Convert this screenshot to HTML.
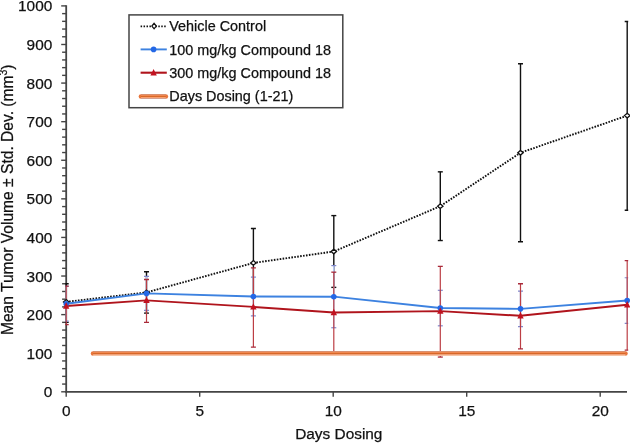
<!DOCTYPE html>
<html><head><meta charset="utf-8"><style>
html,body{margin:0;padding:0;background:#fff;}
body{width:630px;height:443px;overflow:hidden;}
svg{display:block;will-change:transform;}
.t{font-family:"Liberation Sans",sans-serif;font-size:15.4px;fill:#111;stroke:#111;stroke-width:0.25px;}
.l{font-family:"Liberation Sans",sans-serif;font-size:14.4px;fill:#111;stroke:#111;stroke-width:0.25px;}
</style></head><body>
<svg width="630" height="443" viewBox="0 0 630 443">
<clipPath id="pc"><rect x="65.3" y="0" width="562.9000000000001" height="443"/></clipPath>
<line x1="61.2" y1="391.80" x2="66.2" y2="391.80" stroke="#444444" stroke-width="1.4"/>
<text x="52.3" y="397.30" text-anchor="end" class="t">0</text>
<line x1="62.1" y1="384.08" x2="66.2" y2="384.08" stroke="#444444" stroke-width="1.4"/>
<line x1="62.1" y1="376.36" x2="66.2" y2="376.36" stroke="#444444" stroke-width="1.4"/>
<line x1="62.1" y1="368.65" x2="66.2" y2="368.65" stroke="#444444" stroke-width="1.4"/>
<line x1="62.1" y1="360.93" x2="66.2" y2="360.93" stroke="#444444" stroke-width="1.4"/>
<line x1="61.2" y1="353.21" x2="66.2" y2="353.21" stroke="#444444" stroke-width="1.4"/>
<text x="52.3" y="358.71" text-anchor="end" class="t">100</text>
<line x1="62.1" y1="345.49" x2="66.2" y2="345.49" stroke="#444444" stroke-width="1.4"/>
<line x1="62.1" y1="337.77" x2="66.2" y2="337.77" stroke="#444444" stroke-width="1.4"/>
<line x1="62.1" y1="330.06" x2="66.2" y2="330.06" stroke="#444444" stroke-width="1.4"/>
<line x1="62.1" y1="322.34" x2="66.2" y2="322.34" stroke="#444444" stroke-width="1.4"/>
<line x1="61.2" y1="314.62" x2="66.2" y2="314.62" stroke="#444444" stroke-width="1.4"/>
<text x="52.3" y="320.12" text-anchor="end" class="t">200</text>
<line x1="62.1" y1="306.90" x2="66.2" y2="306.90" stroke="#444444" stroke-width="1.4"/>
<line x1="62.1" y1="299.18" x2="66.2" y2="299.18" stroke="#444444" stroke-width="1.4"/>
<line x1="62.1" y1="291.47" x2="66.2" y2="291.47" stroke="#444444" stroke-width="1.4"/>
<line x1="62.1" y1="283.75" x2="66.2" y2="283.75" stroke="#444444" stroke-width="1.4"/>
<line x1="61.2" y1="276.03" x2="66.2" y2="276.03" stroke="#444444" stroke-width="1.4"/>
<text x="52.3" y="281.53" text-anchor="end" class="t">300</text>
<line x1="62.1" y1="268.31" x2="66.2" y2="268.31" stroke="#444444" stroke-width="1.4"/>
<line x1="62.1" y1="260.59" x2="66.2" y2="260.59" stroke="#444444" stroke-width="1.4"/>
<line x1="62.1" y1="252.88" x2="66.2" y2="252.88" stroke="#444444" stroke-width="1.4"/>
<line x1="62.1" y1="245.16" x2="66.2" y2="245.16" stroke="#444444" stroke-width="1.4"/>
<line x1="61.2" y1="237.44" x2="66.2" y2="237.44" stroke="#444444" stroke-width="1.4"/>
<text x="52.3" y="242.94" text-anchor="end" class="t">400</text>
<line x1="62.1" y1="229.72" x2="66.2" y2="229.72" stroke="#444444" stroke-width="1.4"/>
<line x1="62.1" y1="222.00" x2="66.2" y2="222.00" stroke="#444444" stroke-width="1.4"/>
<line x1="62.1" y1="214.29" x2="66.2" y2="214.29" stroke="#444444" stroke-width="1.4"/>
<line x1="62.1" y1="206.57" x2="66.2" y2="206.57" stroke="#444444" stroke-width="1.4"/>
<line x1="61.2" y1="198.85" x2="66.2" y2="198.85" stroke="#444444" stroke-width="1.4"/>
<text x="52.3" y="204.35" text-anchor="end" class="t">500</text>
<line x1="62.1" y1="191.13" x2="66.2" y2="191.13" stroke="#444444" stroke-width="1.4"/>
<line x1="62.1" y1="183.41" x2="66.2" y2="183.41" stroke="#444444" stroke-width="1.4"/>
<line x1="62.1" y1="175.70" x2="66.2" y2="175.70" stroke="#444444" stroke-width="1.4"/>
<line x1="62.1" y1="167.98" x2="66.2" y2="167.98" stroke="#444444" stroke-width="1.4"/>
<line x1="61.2" y1="160.26" x2="66.2" y2="160.26" stroke="#444444" stroke-width="1.4"/>
<text x="52.3" y="165.76" text-anchor="end" class="t">600</text>
<line x1="62.1" y1="152.54" x2="66.2" y2="152.54" stroke="#444444" stroke-width="1.4"/>
<line x1="62.1" y1="144.82" x2="66.2" y2="144.82" stroke="#444444" stroke-width="1.4"/>
<line x1="62.1" y1="137.11" x2="66.2" y2="137.11" stroke="#444444" stroke-width="1.4"/>
<line x1="62.1" y1="129.39" x2="66.2" y2="129.39" stroke="#444444" stroke-width="1.4"/>
<line x1="61.2" y1="121.67" x2="66.2" y2="121.67" stroke="#444444" stroke-width="1.4"/>
<text x="52.3" y="127.17" text-anchor="end" class="t">700</text>
<line x1="62.1" y1="113.95" x2="66.2" y2="113.95" stroke="#444444" stroke-width="1.4"/>
<line x1="62.1" y1="106.23" x2="66.2" y2="106.23" stroke="#444444" stroke-width="1.4"/>
<line x1="62.1" y1="98.52" x2="66.2" y2="98.52" stroke="#444444" stroke-width="1.4"/>
<line x1="62.1" y1="90.80" x2="66.2" y2="90.80" stroke="#444444" stroke-width="1.4"/>
<line x1="61.2" y1="83.08" x2="66.2" y2="83.08" stroke="#444444" stroke-width="1.4"/>
<text x="52.3" y="88.58" text-anchor="end" class="t">800</text>
<line x1="62.1" y1="75.36" x2="66.2" y2="75.36" stroke="#444444" stroke-width="1.4"/>
<line x1="62.1" y1="67.64" x2="66.2" y2="67.64" stroke="#444444" stroke-width="1.4"/>
<line x1="62.1" y1="59.93" x2="66.2" y2="59.93" stroke="#444444" stroke-width="1.4"/>
<line x1="62.1" y1="52.21" x2="66.2" y2="52.21" stroke="#444444" stroke-width="1.4"/>
<line x1="61.2" y1="44.49" x2="66.2" y2="44.49" stroke="#444444" stroke-width="1.4"/>
<text x="52.3" y="49.99" text-anchor="end" class="t">900</text>
<line x1="62.1" y1="36.77" x2="66.2" y2="36.77" stroke="#444444" stroke-width="1.4"/>
<line x1="62.1" y1="29.05" x2="66.2" y2="29.05" stroke="#444444" stroke-width="1.4"/>
<line x1="62.1" y1="21.34" x2="66.2" y2="21.34" stroke="#444444" stroke-width="1.4"/>
<line x1="62.1" y1="13.62" x2="66.2" y2="13.62" stroke="#444444" stroke-width="1.4"/>
<line x1="61.2" y1="5.90" x2="66.2" y2="5.90" stroke="#444444" stroke-width="1.4"/>
<text x="52.3" y="11.40" text-anchor="end" class="t">1000</text>
<line x1="66.20" y1="391.8" x2="66.20" y2="396.8" stroke="#444444" stroke-width="1.4"/>
<text x="66.20" y="416.2" text-anchor="middle" class="t">0</text>
<line x1="199.70" y1="391.8" x2="199.70" y2="396.8" stroke="#444444" stroke-width="1.4"/>
<text x="199.70" y="416.2" text-anchor="middle" class="t">5</text>
<line x1="333.20" y1="391.8" x2="333.20" y2="396.8" stroke="#444444" stroke-width="1.4"/>
<text x="333.20" y="416.2" text-anchor="middle" class="t">10</text>
<line x1="466.70" y1="391.8" x2="466.70" y2="396.8" stroke="#444444" stroke-width="1.4"/>
<text x="466.70" y="416.2" text-anchor="middle" class="t">15</text>
<line x1="600.20" y1="391.8" x2="600.20" y2="396.8" stroke="#444444" stroke-width="1.4"/>
<text x="600.20" y="416.2" text-anchor="middle" class="t">20</text>
<line x1="66.2" y1="5.2" x2="66.2" y2="392.5" stroke="#444444" stroke-width="1.8"/>
<line x1="65.3" y1="391.8" x2="627.0" y2="391.8" stroke="#444444" stroke-width="1.8"/>
<g clip-path="url(#pc)">
<line x1="66.20" y1="283.75" x2="66.20" y2="322.34" stroke="#111" stroke-width="1.4"/>
<line x1="63.70" y1="283.75" x2="68.70" y2="283.75" stroke="#111" stroke-width="1.4"/>
<line x1="63.70" y1="322.34" x2="68.70" y2="322.34" stroke="#111" stroke-width="1.4"/>
<line x1="146.50" y1="271.79" x2="146.50" y2="313.08" stroke="#111" stroke-width="1.4"/>
<line x1="144.00" y1="271.79" x2="149.00" y2="271.79" stroke="#111" stroke-width="1.4"/>
<line x1="144.00" y1="313.08" x2="149.00" y2="313.08" stroke="#111" stroke-width="1.4"/>
<line x1="253.40" y1="228.56" x2="253.40" y2="297.25" stroke="#111" stroke-width="1.4"/>
<line x1="250.90" y1="228.56" x2="255.90" y2="228.56" stroke="#111" stroke-width="1.4"/>
<line x1="250.90" y1="297.25" x2="255.90" y2="297.25" stroke="#111" stroke-width="1.4"/>
<line x1="333.80" y1="215.60" x2="333.80" y2="287.38" stroke="#111" stroke-width="1.4"/>
<line x1="331.30" y1="215.60" x2="336.30" y2="215.60" stroke="#111" stroke-width="1.4"/>
<line x1="331.30" y1="287.38" x2="336.30" y2="287.38" stroke="#111" stroke-width="1.4"/>
<line x1="440.30" y1="171.84" x2="440.30" y2="240.53" stroke="#111" stroke-width="1.4"/>
<line x1="437.80" y1="171.84" x2="442.80" y2="171.84" stroke="#111" stroke-width="1.4"/>
<line x1="437.80" y1="240.53" x2="442.80" y2="240.53" stroke="#111" stroke-width="1.4"/>
<line x1="520.50" y1="63.78" x2="520.50" y2="241.68" stroke="#111" stroke-width="1.4"/>
<line x1="518.00" y1="63.78" x2="523.00" y2="63.78" stroke="#111" stroke-width="1.4"/>
<line x1="518.00" y1="241.68" x2="523.00" y2="241.68" stroke="#111" stroke-width="1.4"/>
<line x1="627.20" y1="21.49" x2="627.20" y2="210.27" stroke="#111" stroke-width="1.4"/>
<line x1="624.70" y1="21.49" x2="629.70" y2="21.49" stroke="#111" stroke-width="1.4"/>
<line x1="624.70" y1="210.27" x2="629.70" y2="210.27" stroke="#111" stroke-width="1.4"/>
<line x1="66.20" y1="286.45" x2="66.20" y2="321.18" stroke="#b4c4ec" stroke-width="1.6"/>
<line x1="63.70" y1="286.45" x2="68.70" y2="286.45" stroke="#8088cc" stroke-width="1.2"/>
<line x1="63.70" y1="321.18" x2="68.70" y2="321.18" stroke="#8088cc" stroke-width="1.2"/>
<line x1="146.50" y1="276.42" x2="146.50" y2="310.38" stroke="#b4c4ec" stroke-width="1.6"/>
<line x1="144.00" y1="276.42" x2="149.00" y2="276.42" stroke="#8088cc" stroke-width="1.2"/>
<line x1="144.00" y1="310.38" x2="149.00" y2="310.38" stroke="#8088cc" stroke-width="1.2"/>
<line x1="253.40" y1="277.19" x2="253.40" y2="315.78" stroke="#b4c4ec" stroke-width="1.6"/>
<line x1="250.90" y1="277.19" x2="255.90" y2="277.19" stroke="#8088cc" stroke-width="1.2"/>
<line x1="250.90" y1="315.78" x2="255.90" y2="315.78" stroke="#8088cc" stroke-width="1.2"/>
<line x1="333.80" y1="265.61" x2="333.80" y2="327.74" stroke="#b4c4ec" stroke-width="1.6"/>
<line x1="331.30" y1="265.61" x2="336.30" y2="265.61" stroke="#8088cc" stroke-width="1.2"/>
<line x1="331.30" y1="327.74" x2="336.30" y2="327.74" stroke="#8088cc" stroke-width="1.2"/>
<line x1="440.30" y1="290.31" x2="440.30" y2="325.81" stroke="#b4c4ec" stroke-width="1.6"/>
<line x1="437.80" y1="290.31" x2="442.80" y2="290.31" stroke="#8088cc" stroke-width="1.2"/>
<line x1="437.80" y1="325.81" x2="442.80" y2="325.81" stroke="#8088cc" stroke-width="1.2"/>
<line x1="520.50" y1="291.08" x2="520.50" y2="326.58" stroke="#b4c4ec" stroke-width="1.6"/>
<line x1="518.00" y1="291.08" x2="523.00" y2="291.08" stroke="#8088cc" stroke-width="1.2"/>
<line x1="518.00" y1="326.58" x2="523.00" y2="326.58" stroke="#8088cc" stroke-width="1.2"/>
<line x1="627.20" y1="277.77" x2="627.20" y2="323.30" stroke="#b4c4ec" stroke-width="1.6"/>
<line x1="624.70" y1="277.77" x2="629.70" y2="277.77" stroke="#8088cc" stroke-width="1.2"/>
<line x1="624.70" y1="323.30" x2="629.70" y2="323.30" stroke="#8088cc" stroke-width="1.2"/>
<line x1="66.20" y1="286.06" x2="66.20" y2="324.65" stroke="#bc3e44" stroke-width="1.2"/>
<line x1="63.70" y1="286.06" x2="68.70" y2="286.06" stroke="#a82a3a" stroke-width="1.3"/>
<line x1="63.70" y1="324.65" x2="68.70" y2="324.65" stroke="#a82a3a" stroke-width="1.3"/>
<line x1="146.50" y1="279.50" x2="146.50" y2="322.34" stroke="#bc3e44" stroke-width="1.2"/>
<line x1="144.00" y1="279.50" x2="149.00" y2="279.50" stroke="#a82a3a" stroke-width="1.3"/>
<line x1="144.00" y1="322.34" x2="149.00" y2="322.34" stroke="#a82a3a" stroke-width="1.3"/>
<line x1="253.40" y1="267.93" x2="253.40" y2="347.04" stroke="#bc3e44" stroke-width="1.2"/>
<line x1="250.90" y1="267.93" x2="255.90" y2="267.93" stroke="#a82a3a" stroke-width="1.3"/>
<line x1="250.90" y1="347.04" x2="255.90" y2="347.04" stroke="#a82a3a" stroke-width="1.3"/>
<line x1="333.80" y1="272.17" x2="333.80" y2="353.98" stroke="#bc3e44" stroke-width="1.2"/>
<line x1="331.30" y1="272.17" x2="336.30" y2="272.17" stroke="#a82a3a" stroke-width="1.3"/>
<line x1="331.30" y1="353.98" x2="336.30" y2="353.98" stroke="#a82a3a" stroke-width="1.3"/>
<line x1="440.30" y1="266.38" x2="440.30" y2="357.07" stroke="#bc3e44" stroke-width="1.2"/>
<line x1="437.80" y1="266.38" x2="442.80" y2="266.38" stroke="#a82a3a" stroke-width="1.3"/>
<line x1="437.80" y1="357.07" x2="442.80" y2="357.07" stroke="#a82a3a" stroke-width="1.3"/>
<line x1="520.50" y1="283.75" x2="520.50" y2="348.97" stroke="#bc3e44" stroke-width="1.2"/>
<line x1="518.00" y1="283.75" x2="523.00" y2="283.75" stroke="#a82a3a" stroke-width="1.3"/>
<line x1="518.00" y1="348.97" x2="523.00" y2="348.97" stroke="#a82a3a" stroke-width="1.3"/>
<line x1="627.20" y1="260.59" x2="627.20" y2="350.12" stroke="#bc3e44" stroke-width="1.2"/>
<line x1="624.70" y1="260.59" x2="629.70" y2="260.59" stroke="#a82a3a" stroke-width="1.3"/>
<line x1="624.70" y1="350.12" x2="629.70" y2="350.12" stroke="#a82a3a" stroke-width="1.3"/>
</g>
<polyline points="66.20,301.89 146.50,292.43 253.40,262.91 333.80,251.49 440.30,206.18 520.50,152.73 627.20,115.61" fill="none" stroke="#111" stroke-width="1.9" stroke-dasharray="1.6 1.35"/>
<polyline points="66.20,303.81 146.50,293.40 253.40,296.48 333.80,296.68 440.30,308.06 520.50,308.83 627.20,300.53" fill="none" stroke="#3d82e0" stroke-width="1.9"/>
<polyline points="66.20,305.94 146.50,300.34 253.40,306.90 333.80,312.50 440.30,311.15 520.50,315.78 627.20,304.78" fill="none" stroke="#b0141c" stroke-width="1.9"/>
<line x1="93.10" y1="353.50" x2="625.40" y2="353.50" stroke="#e8763c" stroke-width="4.7" stroke-linecap="round"/>
<rect x="93.10" y="351" width="532.30" height="1" fill="#d89070"/>
<rect x="93.10" y="352" width="532.30" height="1" fill="#f08850"/>
<rect x="93.10" y="353" width="532.30" height="1" fill="#d86828"/>
<rect x="93.10" y="354" width="532.30" height="1" fill="#f0a078"/>
<rect x="93.10" y="355" width="532.30" height="1" fill="#f6c4a6"/>
<path d="M66.20,299.59 L68.90,301.89 L66.20,304.19 L63.50,301.89 Z" fill="#fff" stroke="#111" stroke-width="1.3"/>
<path d="M146.50,290.13 L149.20,292.43 L146.50,294.73 L143.80,292.43 Z" fill="#fff" stroke="#111" stroke-width="1.3"/>
<path d="M253.40,260.61 L256.10,262.91 L253.40,265.21 L250.70,262.91 Z" fill="#fff" stroke="#111" stroke-width="1.3"/>
<path d="M333.80,249.19 L336.50,251.49 L333.80,253.79 L331.10,251.49 Z" fill="#fff" stroke="#111" stroke-width="1.3"/>
<path d="M440.30,203.88 L443.00,206.18 L440.30,208.48 L437.60,206.18 Z" fill="#fff" stroke="#111" stroke-width="1.3"/>
<path d="M520.50,150.43 L523.20,152.73 L520.50,155.03 L517.80,152.73 Z" fill="#fff" stroke="#111" stroke-width="1.3"/>
<path d="M627.20,113.31 L629.90,115.61 L627.20,117.91 L624.50,115.61 Z" fill="#fff" stroke="#111" stroke-width="1.3"/>
<circle cx="66.20" cy="303.81" r="2.8" fill="#2468e6"/>
<circle cx="146.50" cy="293.40" r="2.8" fill="#2468e6"/>
<circle cx="253.40" cy="296.48" r="2.8" fill="#2468e6"/>
<circle cx="333.80" cy="296.68" r="2.8" fill="#2468e6"/>
<circle cx="440.30" cy="308.06" r="2.8" fill="#2468e6"/>
<circle cx="520.50" cy="308.83" r="2.8" fill="#2468e6"/>
<circle cx="627.20" cy="300.53" r="2.8" fill="#2468e6"/>
<path d="M66.20,302.24 L69.40,308.64 L63.00,308.64 Z" fill="#c21220"/>
<path d="M146.50,296.64 L149.70,303.04 L143.30,303.04 Z" fill="#c21220"/>
<path d="M253.40,303.20 L256.60,309.60 L250.20,309.60 Z" fill="#c21220"/>
<path d="M333.80,308.80 L337.00,315.20 L330.60,315.20 Z" fill="#c21220"/>
<path d="M440.30,307.45 L443.50,313.85 L437.10,313.85 Z" fill="#c21220"/>
<path d="M520.50,312.08 L523.70,318.48 L517.30,318.48 Z" fill="#c21220"/>
<path d="M627.20,301.08 L630.40,307.48 L624.00,307.48 Z" fill="#c21220"/>
<rect x="129" y="14.9" width="213.8" height="92.8" fill="#fff" stroke="#444444" stroke-width="1.5"/>
<line x1="140.6" y1="26.3" x2="166.8" y2="26.3" stroke="#111" stroke-width="1.7" stroke-dasharray="1.5 1.45"/>
<path d="M154.10,23.40 L156.30,26.10 L154.10,28.80 L151.90,26.10 Z" fill="#fff" stroke="#111" stroke-width="1.3"/>
<line x1="140.6" y1="49.4" x2="166.8" y2="49.4" stroke="#3d82e0" stroke-width="1.9"/>
<circle cx="153.60" cy="49.40" r="2.8" fill="#2468e6"/>
<line x1="140.6" y1="72.7" x2="166.8" y2="72.7" stroke="#b0141c" stroke-width="2.1"/>
<path d="M153.60,69.00 L156.80,75.40 L150.40,75.40 Z" fill="#c21220"/>
<line x1="141.00" y1="96.50" x2="165.80" y2="96.50" stroke="#e8763c" stroke-width="4.7" stroke-linecap="round"/>
<rect x="141.00" y="94" width="24.80" height="1" fill="#d89070"/>
<rect x="141.00" y="95" width="24.80" height="1" fill="#f08850"/>
<rect x="141.00" y="96" width="24.80" height="1" fill="#d86828"/>
<rect x="141.00" y="97" width="24.80" height="1" fill="#f8a070"/>
<rect x="141.00" y="98" width="24.80" height="1" fill="#d4a090"/>
<text x="169.3" y="31.3" class="l">Vehicle Control</text>
<text x="169.3" y="54.7" class="l">100 mg/kg Compound 18</text>
<text x="169.3" y="78.0" class="l">300 mg/kg Compound 18</text>
<text x="169.3" y="101.3" class="l">Days Dosing (1-21)</text>
<text x="338.8" y="439.4" text-anchor="middle" class="t">Days Dosing</text>
<text transform="translate(12.8,199.8) rotate(-90)" text-anchor="middle" class="t" style="font-size:15.6px">Mean Tumor Volume ± Std. Dev. (mm<tspan dy="-5.5" font-size="10.5">3</tspan><tspan dy="5.5">)</tspan></text>
</svg>
</body></html>
